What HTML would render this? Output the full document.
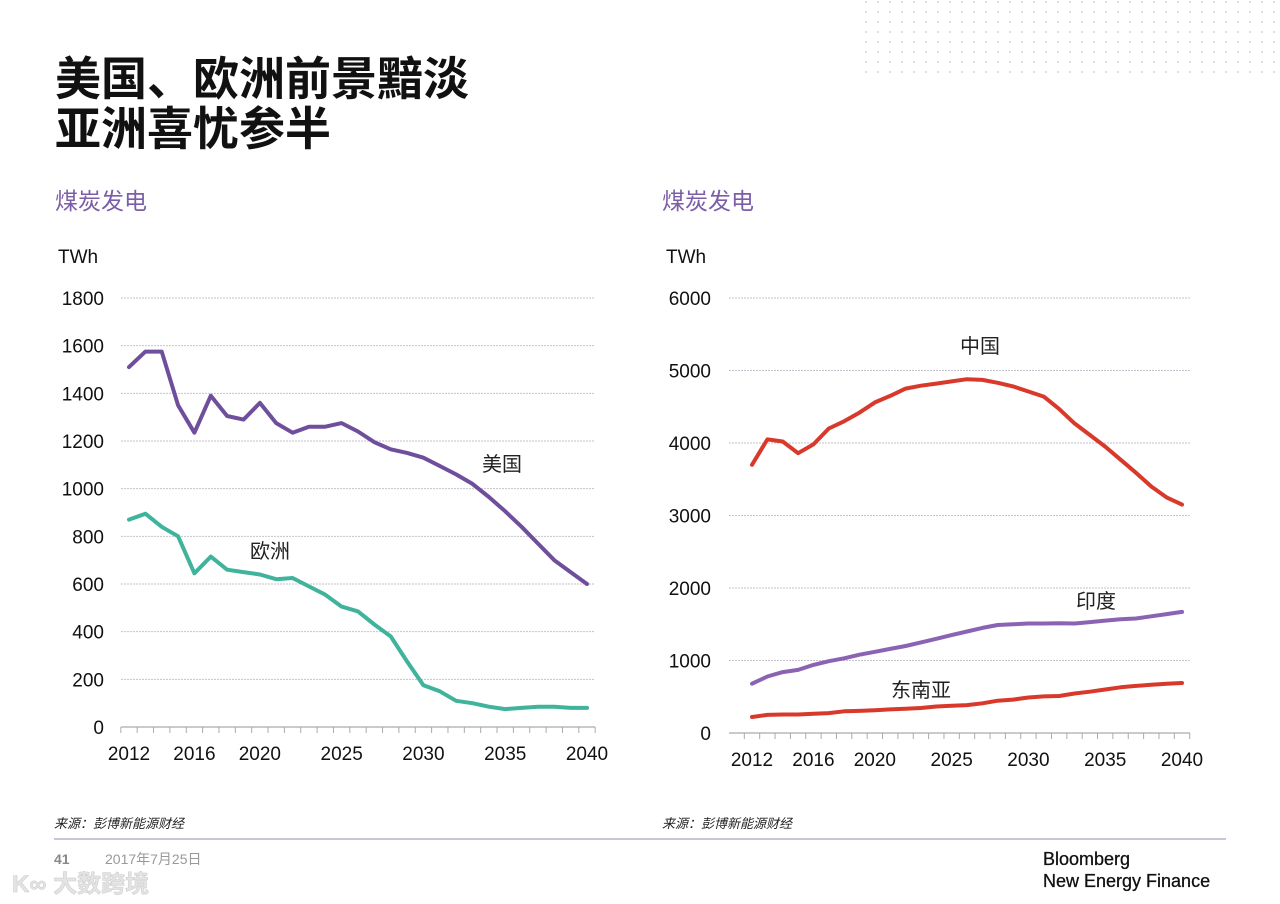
<!DOCTYPE html>
<html><head><meta charset="utf-8">
<style>
html,body{margin:0;padding:0;background:#fff;}
svg{display:block;font-family:"Liberation Sans","Noto Sans CJK SC",sans-serif;}
</style></head>
<body>
<svg id="pg" width="1280" height="904" viewBox="0 0 1280 904" xmlns="http://www.w3.org/2000/svg">
<defs>
<pattern id="dots" width="12" height="10" patternUnits="userSpaceOnUse"><circle cx="2" cy="2" r="0.9" fill="#c8c8c8"/></pattern>
</defs>
<rect x="862" y="0" width="418" height="78" fill="url(#dots)"/>
<text x="55" y="95" font-size="46" font-weight="bold" fill="#111">美国、欧洲前景黯淡</text>
<text x="55" y="145" font-size="46" font-weight="bold" fill="#111">亚洲喜忧参半</text>
<text x="55" y="209" font-size="23" fill="#7b5ea7">煤炭发电</text>
<text x="662" y="209" font-size="23" fill="#7b5ea7">煤炭发电</text>
<text x="58" y="263" font-size="19" fill="#111">TWh</text>
<text x="666" y="263" font-size="19" fill="#111">TWh</text>
<g id="left"></g>
<g id="right"></g>
<text x="54" y="828" font-size="13" font-style="italic" fill="#222">来源：彭博新能源财经</text>
<text x="662" y="828" font-size="13" font-style="italic" fill="#222">来源：彭博新能源财经</text>
<line x1="54" y1="839" x2="1226" y2="839" stroke="#b9b2c8" stroke-width="1.5"/>
<text x="54" y="864" font-size="14" font-weight="bold" fill="#888">41</text>
<text x="105" y="864" font-size="14" fill="#999">2017年7月25日</text>
<text x="12" y="892" font-size="24" font-weight="bold" fill="#e4e4e4" stroke="#cfcfcf" stroke-width="0.6">K∞ 大数跨境</text>
<text x="1043" y="865" font-size="18" fill="#111" stroke="#111" stroke-width="0.3">Bloomberg</text>
<text x="1043" y="887" font-size="18" fill="#111" stroke="#111" stroke-width="0.3">New Energy Finance</text>
</svg>
<script>
const years = [2012,2013,2014,2015,2016,2017,2018,2019,2020,2021,2022,2023,2024,2025,2026,2027,2028,2029,2030,2031,2032,2033,2034,2035,2036,2037,2038,2039,2040];
const xTickLabels = [2012,2016,2020,2025,2030,2035,2040];
const leftYTicks = [0,200,400,600,800,1000,1200,1400,1600,1800];
const rightYTicks = [0,1000,2000,3000,4000,5000,6000];
const usValues = [1510,1575,1575,1350,1235,1390,1305,1290,1360,1275,1235,1260,1260,1275,1240,1195,1165,1150,1130,1095,1060,1020,965,905,840,770,700,650,600];
const europeValues = [870,895,840,800,645,715,660,650,640,620,625,590,555,505,485,430,380,275,175,150,110,100,85,75,80,85,85,80,80];
const chinaValues = [3700,4050,4020,3860,3980,4200,4300,4420,4560,4650,4750,4790,4820,4850,4880,4870,4830,4780,4710,4640,4470,4270,4110,3950,3770,3590,3400,3250,3150];
const indiaValues = [680,780,840,870,940,990,1030,1080,1120,1160,1200,1250,1300,1350,1400,1450,1490,1500,1510,1510,1515,1510,1530,1550,1570,1580,1610,1640,1670];
const seaValues = [220,250,255,255,265,275,300,305,315,325,335,345,365,375,385,410,445,460,490,505,510,545,570,600,630,650,665,680,690];

const NS='http://www.w3.org/2000/svg';
function mk(parent,tag,attrs){const e=document.createElementNS(NS,tag);for(const k in attrs)e.setAttribute(k,attrs[k]);parent.appendChild(e);return e;}

function drawChart(g,cfg){
  const xs=v=>cfg.x0+(v-2012)*(cfg.x1-cfg.x0)/28;
  const ys=v=>cfg.y0-(v/cfg.max)*(cfg.y0-cfg.yTop);
  cfg.yTicks.forEach(t=>{
    const y=ys(t);
    if(t>0){const l=mk(g,'line',{x1:cfg.gx0,x2:cfg.gx1,y1:y,y2:y,stroke:'#c6c2cc','stroke-width':1,'stroke-dasharray':'2,1'});
    
    }
    const tx=mk(g,'text',{x:cfg.labX,y:y+7,'font-size':19,'text-anchor':'end',fill:'#111'});
    tx.textContent=t;
    
    
  });
  const ax=mk(g,'line',{x1:cfg.gx0,x2:cfg.gx1,y1:cfg.y0,y2:cfg.y0,stroke:'#aaa','stroke-width':1.2});
  
  
  for(let yy=2011.5;yy<=2040.6;yy+=1){
    const x=xs(yy);
    const tk=mk(g,'line',{x1:x,x2:x,y1:cfg.y0,y2:cfg.y0+6,stroke:'#aaa','stroke-width':1});
    
    
  }
  xTickLabels.forEach(t=>{
    const tx=mk(g,'text',{x:xs(t),y:cfg.y0+33,'font-size':19,'text-anchor':'middle',fill:'#111'});
    tx.textContent=t;
    
    
  });
  cfg.series.forEach(s=>{
    const d=s.vals.map((v,i)=>(i?'L':'M')+xs(years[i]).toFixed(1)+','+ys(v).toFixed(1)).join(' ');
    const p=mk(g,'path',{d:d,fill:'none',stroke:s.color,'stroke-width':4,'stroke-linejoin':'round','stroke-linecap':'round'});
    
    
    const lb=mk(g,'text',{x:s.lx,y:s.ly,'font-size':20,fill:'#222'});
    lb.textContent=s.label;
    
    
  });
}
drawChart(document.getElementById('left'),{x0:129,x1:587,gx0:121,gx1:595,y0:727,yTop:298,max:1800,labX:104,yTicks:leftYTicks,
  series:[{name:'us',vals:usValues,color:'#6f4f9c',label:'美国',lx:482,ly:471},
          {name:'europe',vals:europeValues,color:'#3fb39b',label:'欧洲',lx:250,ly:558}]});
drawChart(document.getElementById('right'),{x0:752,x1:1182,gx0:729,gx1:1190,y0:733,yTop:298,max:6000,labX:711,yTicks:rightYTicks,
  series:[{name:'china',vals:chinaValues,color:'#d8392b',label:'中国',lx:960,ly:353},
          {name:'india',vals:indiaValues,color:'#8a63b3',label:'印度',lx:1076,ly:608},
          {name:'southeast-asia',vals:seaValues,color:'#d8392b',label:'东南亚',lx:891,ly:697}]});
</script>
</body></html>
